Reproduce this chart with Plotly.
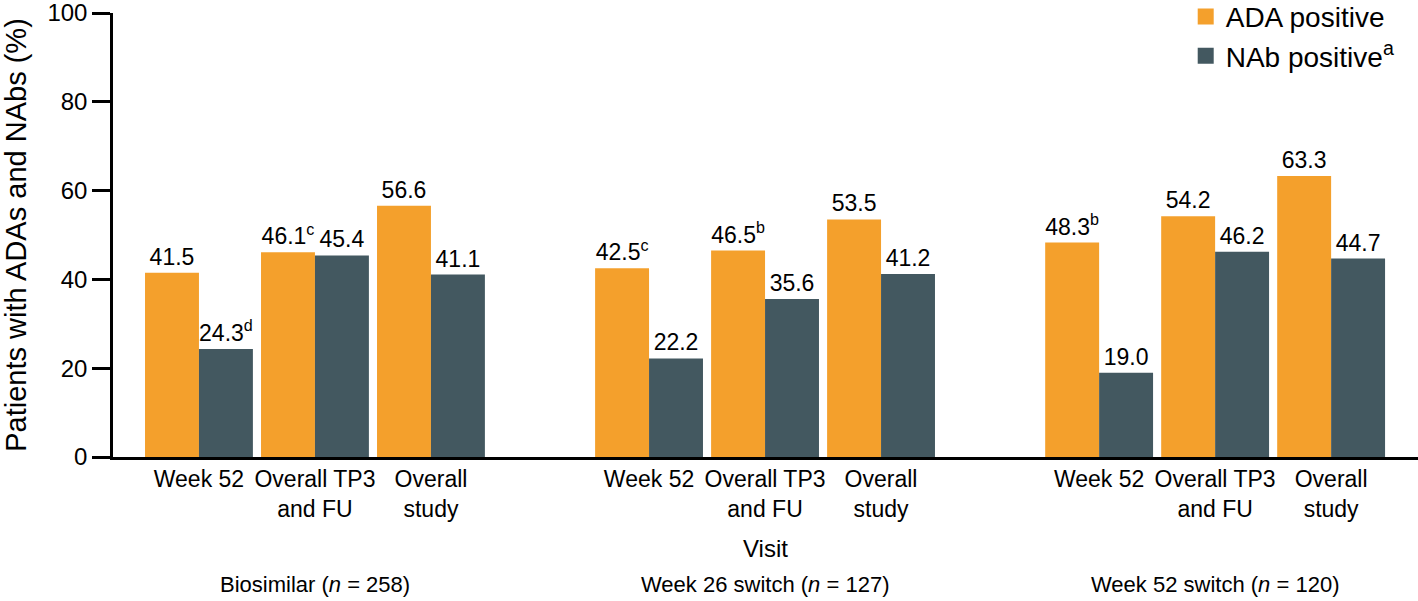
import plotly.graph_objects as go

groups = ["Biosimilar (<i>n</i> = 258)", "Week 26 switch (<i>n</i> = 127)", "Week 52 switch (<i>n</i> = 120)"]
visits = ["Week 52", "Overall TP3<br>and FU", "Overall<br>study"]
ada = [41.5, 46.1, 56.6, 42.5, 46.5, 53.5, 48.3, 54.2, 63.3]
nab = [24.3, 45.4, 41.1, 22.2, 35.6, 41.2, 19.0, 46.2, 44.7]
ada_text = ["41.5", "46.1<sup>c</sup>", "56.6", "42.5<sup>c</sup>", "46.5<sup>b</sup>", "53.5", "48.3<sup>b</sup>", "54.2", "63.3"]
nab_text = ["24.3<sup>d</sup>", "45.4", "41.1", "22.2", "35.6", "41.2", "19.0", "46.2", "44.7"]

ORANGE = "#F4A02C"
SLATE = "#435860"
FONT = "Liberation Sans, Arial, sans-serif"

group_step = 3.88
xpos = [g * group_step + c for g in range(len(groups)) for c in range(len(visits))]
ticktext = visits * len(groups)

fig = go.Figure()
fig.add_trace(go.Bar(x=xpos, y=ada, text=ada_text, textposition="outside", cliponaxis=False,
                     marker=dict(color=ORANGE, line=dict(width=0)), showlegend=False,
                     textfont=dict(size=23, color="black", family=FONT), name="ADA positive"))
fig.add_trace(go.Bar(x=xpos, y=nab, text=nab_text, textposition="outside", cliponaxis=False,
                     marker=dict(color=SLATE, line=dict(width=0)), showlegend=False,
                     textfont=dict(size=23, color="black", family=FONT), name="NAb positive"))
# legend entries
fig.add_trace(go.Scatter(x=[None], y=[None], mode="markers", name="ADA positive",
                         marker=dict(symbol="square", size=24, color=ORANGE)))
fig.add_trace(go.Scatter(x=[None], y=[None], mode="markers", name="NAb positive<sup>a</sup>",
                         marker=dict(symbol="square", size=24, color=SLATE)))

for g, label in enumerate(groups):
    fig.add_annotation(x=g * group_step + 1, y=-0.288, xref="x", yref="paper", text=label,
                       showarrow=False, font=dict(size=22, color="black", family=FONT),
                       xanchor="center", yanchor="middle")
fig.add_annotation(x=group_step + 1, y=-0.205, xref="x", yref="paper", text="Visit",
                   showarrow=False, font=dict(size=24, color="black", family=FONT),
                   xanchor="center", yanchor="middle")

fig.update_layout(
    width=1418, height=601,
    margin=dict(l=113, r=0, t=13, b=144, autoexpand=False),
    paper_bgcolor="white", plot_bgcolor="white",
    barmode="group", bargap=0.07, bargroupgap=0,
    font=dict(family=FONT, color="black"),
    legend=dict(x=0.822, y=1.048, xanchor="left", yanchor="top",
                font=dict(size=28, color="black", family=FONT),
                bgcolor="rgba(0,0,0,0)", itemwidth=30, tracegroupgap=0),
    xaxis=dict(range=[-0.741, -0.741 + 1305 / 116], tickmode="array", tickvals=xpos,
               ticktext=ticktext, showline=True, linecolor="black", linewidth=2.5,
               ticks="", showgrid=False, zeroline=False, automargin=False,
               tickfont=dict(size=23, color="black", family=FONT)),
    yaxis=dict(range=[0, 100], tickvals=[0, 20, 40, 60, 80, 100], showline=True,
               linecolor="black", linewidth=2.5, ticks="outside", ticklen=18, tickwidth=2.5,
               tickcolor="black", showgrid=False, zeroline=False, automargin=False,
               ticklabeloverflow="allow",
               tickfont=dict(size=24, color="black", family=FONT),
               title=dict(text="Patients with ADAs and NAbs (%)",
                          font=dict(size=29, color="black", family=FONT), standoff=21)),
)

fig.write_html("out.html", config={"displayModeBar": False},
               post_script="document.body.style.margin='0';")
